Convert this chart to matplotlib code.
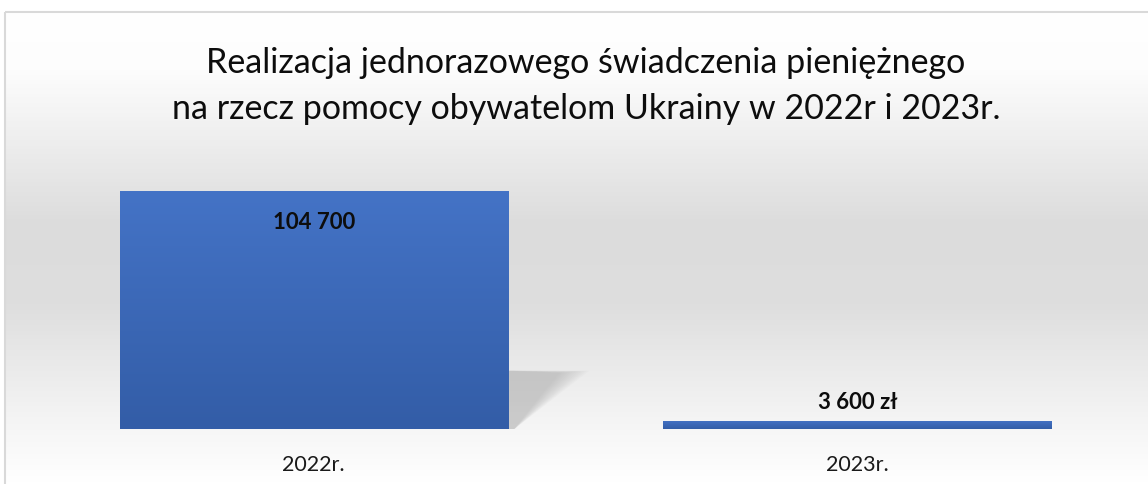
import matplotlib
matplotlib.use("Agg")
import matplotlib.pyplot as plt
import numpy as np
from matplotlib.colors import LinearSegmentedColormap
from matplotlib.patches import Polygon, Rectangle

categories = ["2022r.", "2023r."]
values = [104700, 3600]
value_labels = ["104 700", "3 600 zł"]
title = "Realizacja jednorazowego świadczenia pieniężnego\nna rzecz pomocy obywatelom Ukrainy w 2022r i 2023r."

plt.rcParams['font.family'] = ['Lato', 'DejaVu Sans']

W, H = 1148, 485
fig = plt.figure(figsize=(W/100, H/100), dpi=100)

# background gradient axes
bg = fig.add_axes([0, 0, 1, 1], zorder=0)
bg.set_xlim(0, W); bg.set_ylim(H, 0); bg.axis('off')
ys = np.linspace(0, 1, 300)
bgcmap = LinearSegmentedColormap.from_list('bg', [(0, '#ffffff'), (0.12, '#fdfdfd'), (0.45, '#dcdcdc'), (0.62, '#dedede'), (0.85, '#f3f3f3'), (1, '#ffffff')])
bg.imshow(ys[:, None], cmap=bgcmap, extent=[5, W, H, 13], aspect='auto', vmin=0, vmax=1)
bg.add_patch(Rectangle((5, 13), W, H, fill=False, edgecolor='#d9d9d9', lw=1.5))
bg.text(586, 86, title, ha='center', va='center', fontsize=24.5, linespacing=1.55, color='#0d0d0d')

# plot axes
left_px, right_px, bottom_px, top_px = 42, 1129, 430, 185
ax = fig.add_axes([left_px/W, 1-bottom_px/H, (right_px-left_px)/W, (bottom_px-top_px)/H], zorder=1)
ax.patch.set_alpha(0)
ymax = values[0] * (bottom_px - top_px) / (bottom_px - 192)
ax.set_xlim(-0.5, 1.5)
ax.set_ylim(0, ymax)
x = np.arange(len(categories))
bars = ax.bar(x, values, width=0.714, color='none', zorder=3)

barcmap = LinearSegmentedColormap.from_list('bar', ['#4473c6', '#335da7'])
for b in bars:
    x0, w, h = b.get_x(), b.get_width(), b.get_height()
    g = np.linspace(0, 1, 100)[:, None]
    im = ax.imshow(g, cmap=barcmap, extent=[x0, x0+w, 0, h], origin='upper', aspect='auto', zorder=3)
    im.set_clip_path(b)

# shadow behind first bar
b = bars[0]
x1 = b.get_x() + b.get_width()
h = b.get_height()
for k in range(12):
    s = k / 12
    poly = Polygon([(x1, h*0.245), (x1 + 0.15*(1-s*0.4), h*0.245 - s*0.01*h),
                    (x1 + 0.012, 0), (x1, 0)],
                   closed=True, facecolor='#9a9a9a', edgecolor='none', alpha=0.045, zorder=2)
    ax.add_patch(poly)

for xi, v, lab in zip(x, values, value_labels):
    if v > ymax * 0.5:
        ax.text(xi, v - ymax*0.125, lab, ha='center', va='center', fontsize=16, fontweight='bold', color='#0d0d0d', zorder=4)
    else:
        ax.text(xi, v + ymax*0.08, lab, ha='center', va='center', fontsize=16, fontweight='bold', color='#0d0d0d', zorder=4)

ax.set_yticks([])
ax.set_xticks(x)
ax.set_xticklabels(categories, fontsize=15.5, color='#1a1a1a')
ax.tick_params(axis='x', length=0, pad=18)
for s in ax.spines.values():
    s.set_visible(False)

fig.savefig('out.png', dpi=100)
